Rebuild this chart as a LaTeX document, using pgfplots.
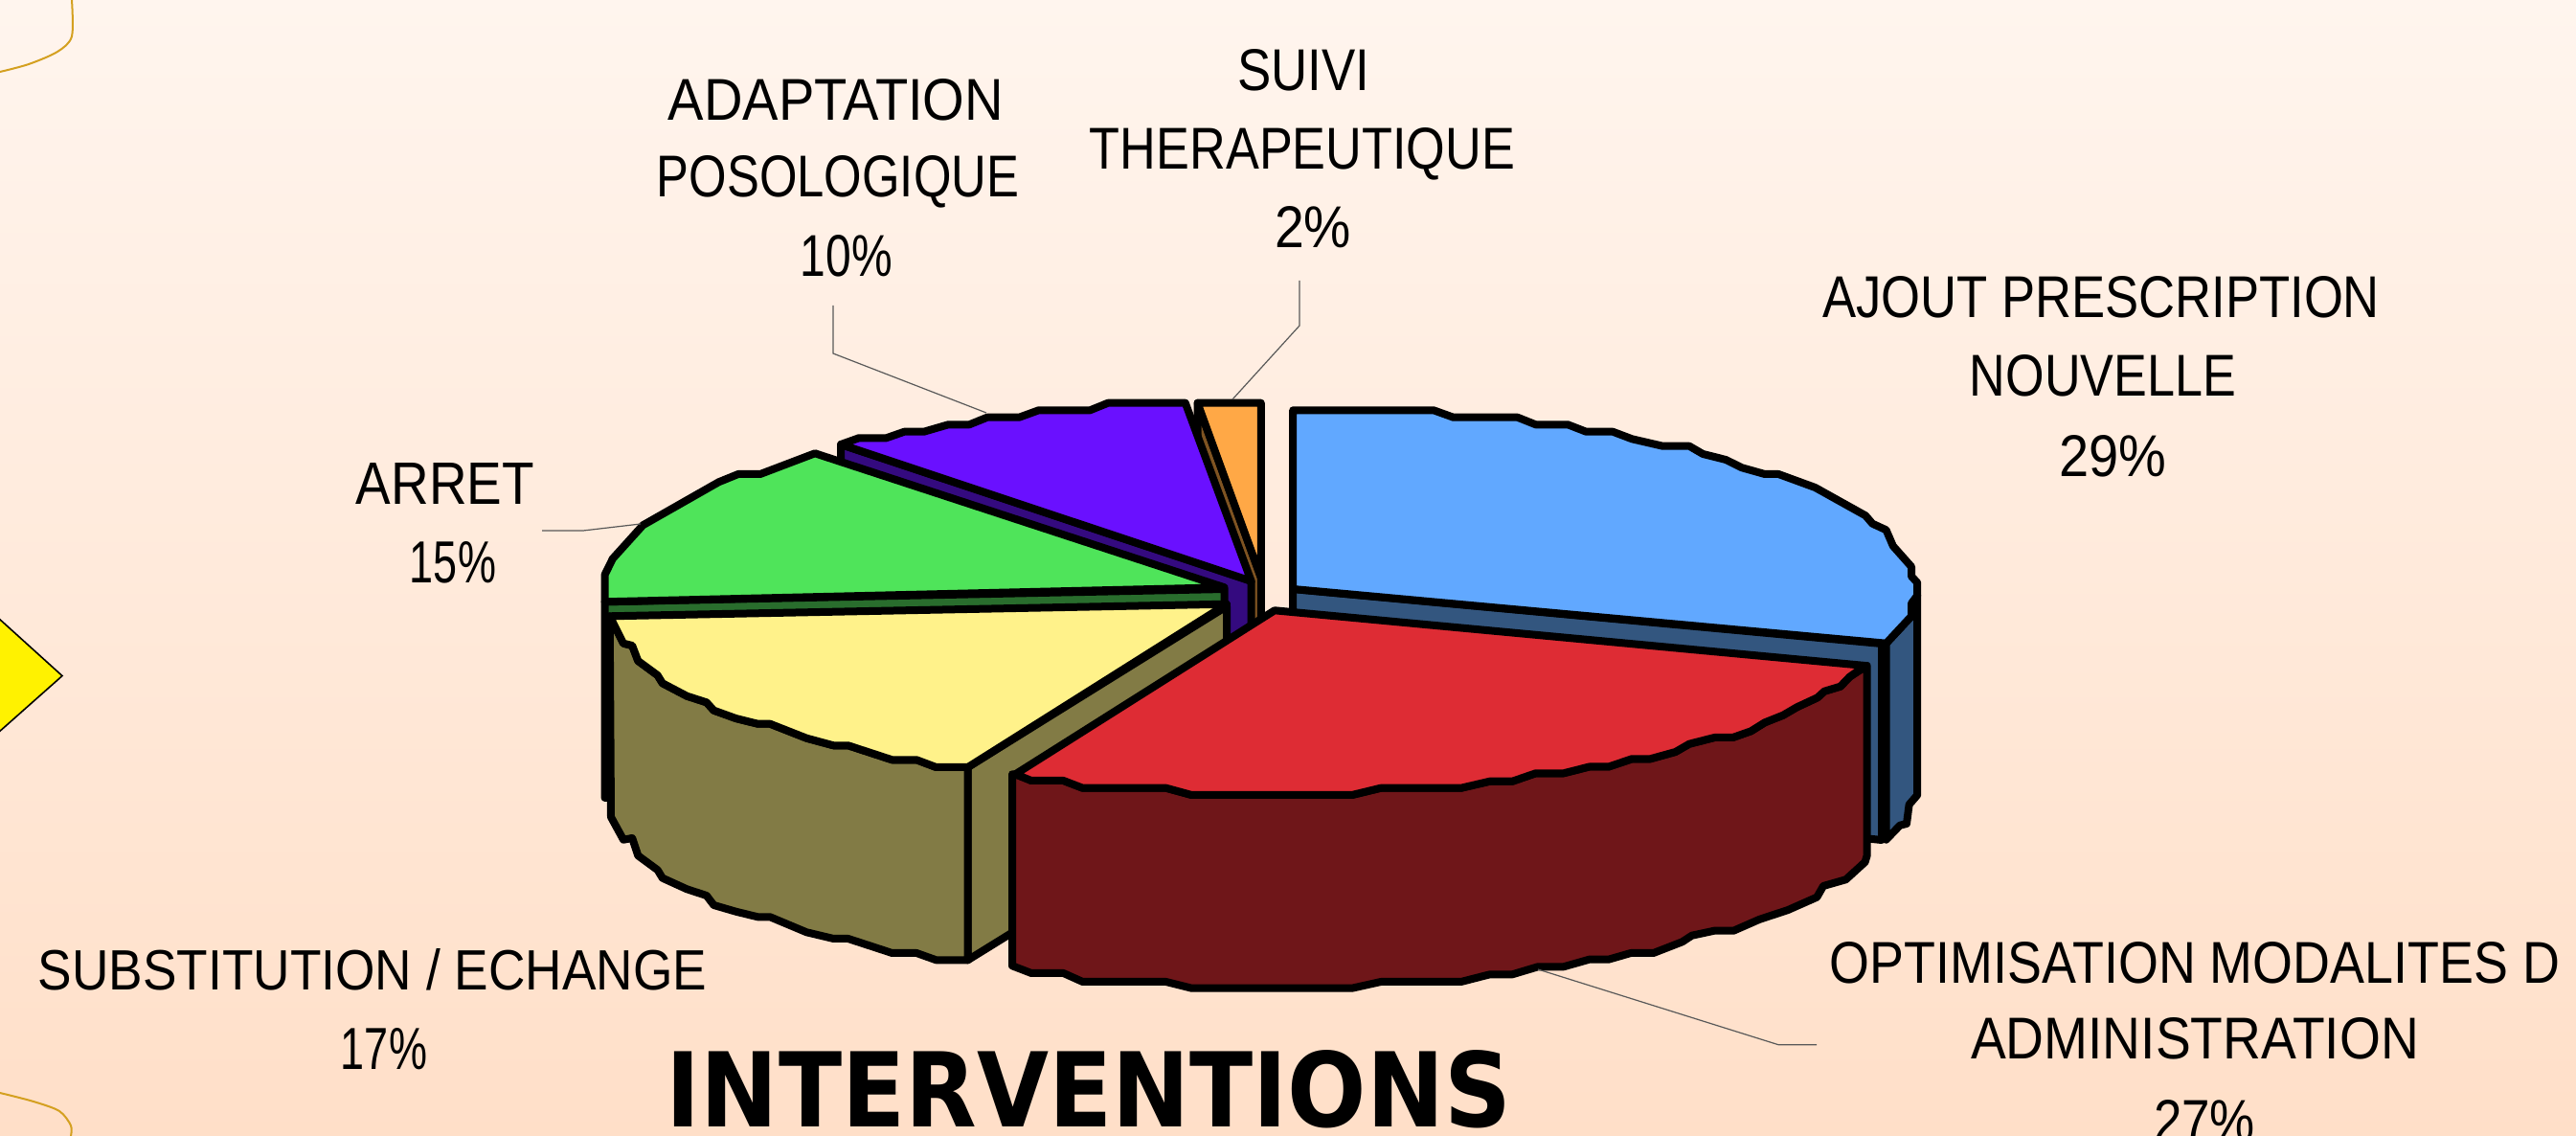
\documentclass[border=0pt]{standalone}
\usepackage{fontspec}
\usepackage{pgfplots}
\pgfplotsset{compat=1.18}
\setmainfont{Liberation Sans}
\newfontfamily\titlefont{DejaVu Sans}
\definecolor{bluetop}{HTML}{61A8FF}\definecolor{blueside}{HTML}{33567F}
\definecolor{redtop}{HTML}{DE2C34}\definecolor{redside}{HTML}{6F1619}
\definecolor{yeltop}{HTML}{FFF28A}\definecolor{yelside}{HTML}{827B45}
\definecolor{greentop}{HTML}{4FE45A}\definecolor{greenside}{HTML}{296D2D}
\definecolor{purptop}{HTML}{6A10FF}\definecolor{purpside}{HTML}{340A7F}
\definecolor{orgtop}{HTML}{FFA846}\definecolor{orgside}{HTML}{7F5422}
\definecolor{gold}{HTML}{D4A020}
\definecolor{bgtop}{HTML}{FFF5EE}\definecolor{bgbot}{HTML}{FFDFC8}
\newcommand{\lab}[4]{\node[anchor=base,inner sep=0pt,black] at (axis cs:#1,#2) {\resizebox{#3pt}{21.5pt}{#4}};}
\pgfplotsset{slice/.style={fill=#1,draw=black,line width=4pt,line join=round},
  lead/.style={draw=black!65,line width=0.6pt}}
\begin{document}
\begin{tikzpicture}
\useasboundingbox (0,0) rectangle (1345pt,593pt);
\clip (0,0) rectangle (1345pt,593pt);
\shade[top color=bgtop,bottom color=bgbot,middle color=bgtop!50!bgbot] (0,0) rectangle (1345pt,593pt);
\begin{axis}[at={(0,0)},anchor=south west,scale only axis,width=1345pt,height=593pt,
  xmin=0,xmax=2690,ymin=0,ymax=1186,y dir=reverse,hide axis,clip=false]
% ornaments
\addplot[gold,line width=1pt,smooth] coordinates {(75,0)(75,38)(60,54)(30,67)(0,75)};
\addplot[gold,line width=1pt,smooth] coordinates {(0,1141)(35,1150)(62,1160)(74,1175)(74,1186)};
\addplot[fill=yellow,draw=black,line width=0.8pt] coordinates {(-2,645)(65,705.6)(-2,765)} --cycle;
% orange slice
\addplot[slice=orgside] coordinates {(1250.5,420.7)(1316.8,603)(1316.8,805)(1250.5,622)} --cycle;
\addplot[slice=orgtop] coordinates {(1250.5,420.7)(1316.8,420.7)(1316.8,603)} --cycle;
% purple slice
\addplot[slice=purpside] coordinates {(878,464)(1306.6,606.7)(1306.6,808)(878,666)} --cycle;
\addplot[slice=purptop] coordinates {(878.1,464)(896.9,457.3)(925.5,457.3)(944.4,450.7)(964.8,450.7)(990.3,443.3)(1012.2,443.3)(1031.1,435.7)(1064.3,435.7)(1084.7,428.3)(1138.3,428.3)(1157.1,420.7)(1237.8,420.7)(1306.6,606.7)} --cycle;
% green slice
\addplot[slice=greenside] coordinates {(631.6,628.3)(1278.6,615)(1278.6,815)(631.6,833)} --cycle;
\addplot[slice=greentop] coordinates {(631.6,628.3)(631.6,600)(639.8,583.3)(671.4,548.3)(750.5,503.3)(770.9,495)(793.9,495)(851,473.3)(1278.6,613.3)} --cycle;
% yellow slice
\addplot[slice=yelside] coordinates {(1010.7,801)(1281,633)(1281,835)(1010.7,1002.3)} --cycle;
\addplot[slice=yelside] coordinates {(636.7,643.3)(651,671.7)(660.2,674)(666.3,690)(686.7,705)(691.8,713.3)(717.3,726.7)(737.8,733.3)(745.4,741.7)(768.4,750)(791.3,755.7)(804.1,755.7)(842.3,770.7)(870.4,778.3)(885.7,778.3)(931.6,793.3)(957.1,793.3)(977.6,801)(1010.7,801)(1010.7,1002.3)(977.6,1002.3)(957.1,995)(931.6,995)(885.7,980)(870.4,980)(842.3,973.3)(804.1,957.3)(791.3,957.3)(768.4,951.7)(745.4,945)(737.8,935)(717.3,928.3)(691.8,916.7)(686.7,908.3)(666.3,893.3)(660.2,875)(651,876.7)(638,853)} --cycle;
\addplot[slice=yeltop] coordinates {(636.7,643.3)(1281,630.7)(1010.7,801)(977.6,801)(957.1,793.3)(931.6,793.3)(885.7,778.3)(870.4,778.3)(842.3,770.7)(804.1,755.7)(791.3,755.7)(768.4,750)(745.4,741.7)(737.8,733.3)(717.3,726.7)(691.8,713.3)(686.7,705)(666.3,690)(660.2,674)(651,671.7)} --cycle;
% blue slice
\addplot[slice=blueside] coordinates {(1350.2,615)(1965,672)(1965,877)(1350.2,815)} --cycle;
\addplot[slice=blueside] coordinates {(1969.6,671.7)(1996,643.3)(1996,630)(2002.2,621.7)(2002.2,830)(1993.6,840)(1991,860)(1984,861.7)(1969.6,876.7)} --cycle;
\addplot[slice=bluetop] coordinates {(1350.2,615)(1350.2,428.3)(1497,428.3)(1517.6,435.7)(1584.6,435.7)(1603.7,443.3)(1637.2,443.3)(1656.3,450.7)(1684.1,450.7)(1704.2,458.3)(1736.2,465.7)(1764,465.7)(1778.3,474)(1802.2,480)(1819,488.3)(1842.9,495)(1857.2,495)(1895.5,509)(1948.1,538.3)(1955.3,546.7)(1969.6,553.3)(1976.8,570)(1996,591.7)(1996,601.7)(2002.2,608.3)(2002.2,621.7)(1996,630)(1996,643.3)(1969.6,671.7)} --cycle;
% red slice
\addplot[slice=redside] coordinates {(1060.3,808.3)(1077,815)(1110.5,815)(1130.6,822.7)(1217.6,822.7)(1244.4,830)(1411.8,830)(1442,822.7)(1525.7,822.7)(1555.8,815.7)(1579.3,815.7)(1603.7,807.3)(1632.8,807.3)(1659.6,800.5)(1679.7,800.5)(1704.2,792.3)(1723.3,792.3)(1749.6,785)(1764,776.7)(1790.3,770)(1809.4,770)(1828.5,763.3)(1842.9,754.3)(1862,746.7)(1876.4,738.3)(1897.9,728.3)(1905.1,721.7)(1921.8,716.7)(1931.4,706.7)(1949.6,695)(1949.6,893.3)(1947.6,900)(1927.5,918.3)(1904,925)(1897.3,936.7)(1867.2,950)(1837,960)(1810.3,971.7)(1790.2,971.7)(1766.8,976.7)(1756.7,983.3)(1726.6,995)(1703,995)(1679.7,1001.7)(1659.6,1001.7)(1632.8,1009.3)(1606,1009.3)(1579.3,1017.3)(1555.8,1017.3)(1525.7,1025)(1442,1025)(1411.8,1031.7)(1244.4,1031.7)(1217.6,1025)(1130.6,1025)(1110.5,1016)(1077,1016)(1057,1008.3)(1057,808.3)} --cycle;
\addplot[slice=redtop] coordinates {(1331,637.3)(1948,695)(1931.4,706.7)(1921.8,716.7)(1905.1,721.7)(1897.9,728.3)(1876.4,738.3)(1862,746.7)(1842.9,754.3)(1828.5,763.3)(1809.4,770)(1790.3,770)(1764,776.7)(1749.6,785)(1723.3,792.3)(1704.2,792.3)(1679.7,800.5)(1659.6,800.5)(1632.8,807.3)(1603.7,807.3)(1579.3,815.7)(1555.8,815.7)(1525.7,822.7)(1442,822.7)(1411.8,830)(1244.4,830)(1217.6,822.7)(1130.6,822.7)(1110.5,815)(1077,815)(1060.3,808.3)} --cycle;
% leader lines
\addplot[lead] coordinates {(1357,293)(1357,340)(1287,417)};
\addplot[lead] coordinates {(870,319)(870,369)(1030,431)};
\addplot[lead] coordinates {(566,554)(609,554)(669,547)};
\addplot[lead] coordinates {(1606,1012)(1857,1090.7)(1897,1090.7)};
% labels (base-line y, half-pixel width)
\lab{1361}{95}{69}{SUIVI}
\lab{1360}{177}{222}{THERAPEUTIQUE}
\lab{1371}{259}{40}{2\%}
\lab{873}{126}{175}{ADAPTATION}
\lab{875}{206}{189}{POSOLOGIQUE}
\lab{884}{289}{48}{10\%}
\lab{2194}{332}{291}{AJOUT PRESCRIPTION}
\lab{2196}{414}{139}{NOUVELLE}
\lab{2206}{498}{56}{29\%}
\lab{465}{527}{93}{ARRET}
\lab{473}{609}{45}{15\%}
\lab{389}{1033}{349}{SUBSTITUTION / ECHANGE}
\lab{401}{1116}{45}{17\%}
\lab{2292}{1026}{381}{OPTIMISATION MODALITES D}
\lab{2292}{1105}{234}{ADMINISTRATION}
\lab{2302}{1191}{53}{27\%}
\node[anchor=base,inner sep=0pt,black] at (axis cs:1137,1176) {\resizebox{441pt}{40pt}{\titlefont\bfseries INTERVENTIONS}};
\end{axis}
\end{tikzpicture}
\end{document}
